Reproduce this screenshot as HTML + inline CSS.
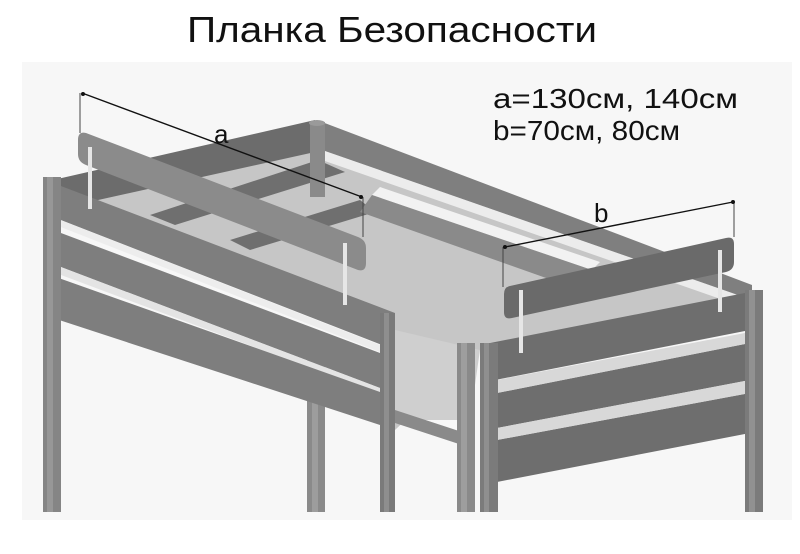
<!DOCTYPE html>
<html><head><meta charset="utf-8"><style>
html,body{margin:0;padding:0;background:#fff;width:800px;height:554px;overflow:hidden}
svg{display:block}
text{font-family:"Liberation Sans",sans-serif;fill:#111}
</style></head><body>
<svg width="800" height="554" viewBox="0 0 800 554" xmlns="http://www.w3.org/2000/svg">
<rect x="0" y="0" width="800" height="554" fill="#fff"/>
<rect x="22" y="62" width="770" height="458" fill="#f7f7f7"/>

<!-- mattress -->
<polygon points="53,200 318,140 752,296 480,350 395,430 395,330" fill="#c6c6c6"/>
<polygon points="395,330 480,350 470,420 395,420" fill="#cfcfcf"/>
<!-- slats -->
<polygon points="150,215 318,160 345,172 175,225" fill="#6f6f6f"/>
<polygon points="230,240 360,200 375,212 250,250" fill="#6f6f6f"/>
<polygon points="380,187 600,262 592,270 372,195" fill="#f2f2f2"/>
<polygon points="372,195 592,270 580,290 360,212" fill="#8a8a8a"/>

<!-- back long rail -->
<polygon points="322,122 752,285 752,300 322,150" fill="#7f7f7f"/>
<polygon points="322,150 752,300 752,310 322,160" fill="#ececec"/>
<!-- head end board (back short side) -->
<polygon points="53,180 315,120 315,152 53,210" fill="#6c6c6c"/>
<!-- back post -->
<rect x="310" y="122" width="15" height="75" fill="#8a8a8a"/>
<ellipse cx="317" cy="123" rx="8" ry="3" fill="#9a9a9a"/>

<!-- lower bunk connector -->
<polygon points="395,410 462,432 462,445 395,423" fill="#8a8a8a"/>
<rect x="307" y="357" width="18" height="155" fill="#8a8a8a"/>
<rect x="312" y="357" width="6" height="155" fill="#9d9d9d"/>

<!-- left front side rail boards -->
<polygon points="53,183 395,313 395,350 53,217" fill="#7e7e7e"/>
<polygon points="53,217 380,345 380,352 53,224" fill="#ededed"/>
<polygon points="53,230 380,353 380,388 53,264" fill="#7e7e7e"/>
<polygon points="53,264 380,388 380,394 53,272" fill="#e4e4e4"/>
<polygon points="53,276 380,392 380,425 53,318" fill="#7e7e7e"/>
<!-- left posts -->
<rect x="43" y="177" width="18" height="335" fill="#858585"/>
<rect x="47" y="177" width="6" height="335" fill="#979797"/>
<rect x="380" y="313" width="15" height="199" fill="#7a7a7a"/>
<rect x="384" y="313" width="5" height="199" fill="#8e8e8e"/>

<!-- foot end -->
<rect x="457" y="343" width="18" height="169" fill="#8a8a8a"/>
<rect x="461" y="343" width="6" height="169" fill="#9e9e9e"/>
<polygon points="480,345 750,292 750,330 480,383" fill="#6e6e6e"/>
<polygon points="497,393 750,343 750,380 497,428" fill="#6e6e6e"/>
<polygon points="497,380 750,332 750,343 497,393" fill="#d8d8d8"/>
<polygon points="497,440 750,393 750,433 497,482" fill="#6e6e6e"/>
<polygon points="497,428 750,380 750,393 497,440" fill="#d8d8d8"/>
<rect x="480" y="343" width="18" height="169" fill="#7b7b7b"/>
<rect x="484" y="343" width="5" height="169" fill="#8f8f8f"/>
<rect x="745" y="290" width="18" height="222" fill="#7b7b7b"/>
<rect x="749" y="290" width="6" height="222" fill="#919191"/>

<!-- guard a -->
<path d="M86,133 L358,237 Q366,240 366,248 L366,263 Q366,272 358,270 L86,165 Q78,162 78,154 L78,140 Q78,131 86,133 Z" fill="#8b8b8b"/>
<rect x="88" y="147" width="4" height="62" fill="#e6e6e6"/>
<rect x="343" y="243" width="4" height="62" fill="#e6e6e6"/>
<!-- dim a -->
<line x1="82" y1="93" x2="362" y2="197" stroke="#111" stroke-width="1.4"/>
<line x1="80" y1="93" x2="80" y2="133" stroke="#444" stroke-width="1"/>
<line x1="363" y1="197" x2="363" y2="237" stroke="#444" stroke-width="1"/>
<circle cx="83" cy="94" r="2" fill="#111"/><circle cx="361" cy="197" r="2" fill="#111"/>
<text x="214" y="143" font-size="26">a</text>

<!-- guard b -->
<path d="M510,286 L726,238 Q734,236 734,244 L734,262 Q734,270 726,272 L512,318 Q504,320 504,312 L504,294 Q504,287 510,286 Z" fill="#6a6a6a"/>
<rect x="519" y="290" width="4" height="63" fill="#e6e6e6"/>
<rect x="718" y="250" width="4" height="62" fill="#e6e6e6"/>
<!-- dim b -->
<line x1="505" y1="247" x2="733" y2="202" stroke="#111" stroke-width="1.4"/>
<line x1="503" y1="247" x2="503" y2="287" stroke="#444" stroke-width="1"/>
<line x1="734" y1="202" x2="734" y2="237" stroke="#444" stroke-width="1"/>
<circle cx="505" cy="247" r="2" fill="#111"/><circle cx="733" cy="202" r="2" fill="#111"/>
<text x="594" y="222" font-size="26">b</text>

<!-- texts -->
<text x="187" y="42" font-size="36" textLength="410" lengthAdjust="spacingAndGlyphs">Планка Безопасности</text>
<text x="493" y="108" font-size="28" textLength="245" lengthAdjust="spacingAndGlyphs">a=130см, 140см</text>
<text x="493" y="140" font-size="28" textLength="187" lengthAdjust="spacingAndGlyphs">b=70см, 80см</text>
</svg>
</body></html>
